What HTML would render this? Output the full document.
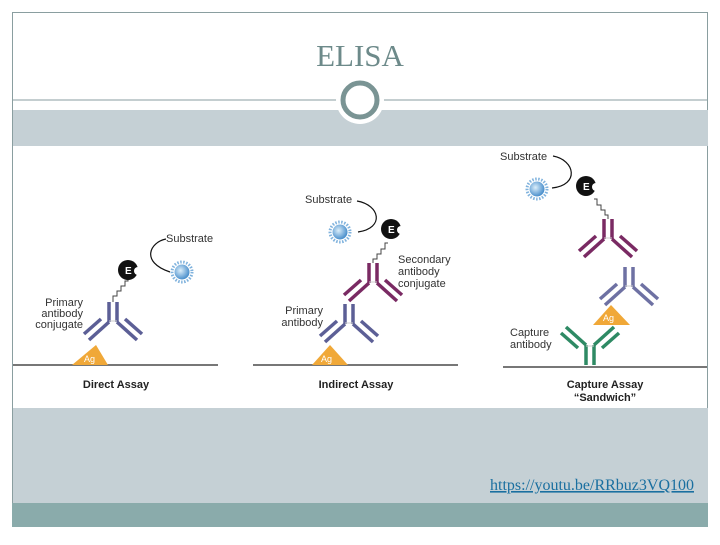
<!DOCTYPE html>
<html><head><meta charset="utf-8"><style>
html,body{margin:0;padding:0;background:#fff;}
body{width:720px;height:540px;position:relative;overflow:hidden;font-family:"Liberation Sans",sans-serif;}
</style></head><body>
<svg width="720" height="540" viewBox="0 0 720 540" xmlns="http://www.w3.org/2000/svg">
<defs>
<g id="ab">
 <line x1="-4" y1="0" x2="-4" y2="-20" stroke="currentColor" stroke-width="3.5"/>
 <line x1="4" y1="0" x2="4" y2="-20" stroke="currentColor" stroke-width="3.5"/>
 <line x1="-4" y1="0" x2="-24" y2="18" stroke="currentColor" stroke-width="3.5"/>
 <line x1="-12" y1="-3" x2="-29" y2="12" stroke="currentColor" stroke-width="3.5"/>
 <line x1="4" y1="0" x2="24" y2="18" stroke="currentColor" stroke-width="3.5"/>
 <line x1="12" y1="-3" x2="29" y2="12" stroke="currentColor" stroke-width="3.5"/>
 <line x1="-4" y1="-1" x2="4" y2="-1" stroke="#ccc" stroke-width="1"/>
</g>
<g id="enz">
 <circle cx="0" cy="0" r="10" fill="#111"/>
 <circle cx="10" cy="1" r="4" fill="#fff"/>
 <text x="-3" y="4" font-size="10" font-weight="bold" fill="#fff" font-family="Liberation Sans">E</text>
</g>
<radialGradient id="bg" cx="0.4" cy="0.4" r="0.6"><stop offset="0" stop-color="#dbeefa"/><stop offset="1" stop-color="#4a8fcc"/></radialGradient>
<g id="ball">
 <circle r="10" fill="none" stroke="#7fb2dd" stroke-width="3" stroke-dasharray="1.5 1.5"/>
 <circle r="7.5" fill="url(#bg)"/>
</g>
</defs>
<!-- frame -->
<rect x="12.5" y="12.5" width="695" height="514" fill="none" stroke="#8a9ea0" stroke-width="1"/>
<line x1="13" y1="100" x2="707" y2="100" stroke="#8a9ea0" stroke-width="1"/>
<rect x="13" y="110" width="695" height="36" fill="#c5d0d5"/>
<rect x="13" y="408" width="695" height="95" fill="#c5d0d5"/>
<rect x="12" y="503" width="696" height="24" fill="#8aabab"/>
<text x="360" y="66" text-anchor="middle" font-family="Liberation Serif,serif" font-size="31" fill="#6d8a8a">ELISA</text>
<circle cx="360" cy="100" r="24" fill="#fff"/>
<circle cx="360" cy="100" r="17" fill="#fff" stroke="#7a9494" stroke-width="5"/>

<g font-family="Liberation Sans,sans-serif" font-size="11" fill="#333">
<!-- Direct -->
<line x1="13" y1="365" x2="218" y2="365" stroke="#777" stroke-width="2"/>
<polygon points="96,345 72,365 108,365" fill="#f0a838"/>
<text x="84" y="362" font-size="9" fill="#fff">Ag</text>
<use href="#ab" x="113" y="322" color="#5c5f96"/>
<path d="M113 302 v-6 h4 v-5 h4 v-5 h4 v-5 h3 v-3" fill="none" stroke="#444" stroke-width="1"/>
<use href="#enz" x="128" y="270"/>
<use href="#ball" x="182" y="272"/>
<path d="M166 239 C150 242 140 262 170 272" fill="none" stroke="#111" stroke-width="1.2"/>
<text x="166" y="242">Substrate</text>
<g text-anchor="end"><text x="83" y="306">Primary</text><text x="83" y="317">antibody</text><text x="83" y="328">conjugate</text></g>
<text x="116" y="388" text-anchor="middle" font-weight="bold" font-size="11" fill="#222">Direct Assay</text>

<!-- Indirect -->
<line x1="253" y1="365" x2="458" y2="365" stroke="#777" stroke-width="2"/>
<polygon points="330,345 312,365 348,365" fill="#f0a838"/>
<text x="321" y="362" font-size="9" fill="#fff">Ag</text>
<use href="#ab" x="349" y="324" color="#5c5f96"/>
<use href="#ab" x="373" y="283" color="#7a2a63"/>
<path d="M373 263 v-4 h4 v-5 h4 v-5 h4 v-6 h3" fill="none" stroke="#444" stroke-width="1"/>
<use href="#enz" x="391" y="229"/>
<use href="#ball" x="340" y="232"/>
<path d="M357 201 C380 205 385 228 358 232" fill="none" stroke="#111" stroke-width="1.2"/>
<text x="305" y="203">Substrate</text>
<text x="398" y="263">Secondary</text><text x="398" y="275">antibody</text><text x="398" y="287">conjugate</text>
<g text-anchor="end"><text x="323" y="314">Primary</text><text x="323" y="326">antibody</text></g>
<text x="356" y="388" text-anchor="middle" font-weight="bold" font-size="11" fill="#222">Indirect Assay</text>

<!-- Capture -->
<line x1="503" y1="367" x2="707" y2="367" stroke="#777" stroke-width="2"/>
<use href="#ab" transform="translate(590,345) scale(1,-1)" color="#2e8a64"/>
<polygon points="611,305 593,325 630,325" fill="#f0a838"/>
<text x="603" y="321" font-size="9" fill="#fff">Ag</text>
<use href="#ab" x="629" y="287" color="#6e71a3"/>
<use href="#ab" x="608" y="239" color="#7a2a63"/>
<path d="M608 219 v-4 h-3 v-5 h-4 v-5 h-4 v-6 h-3" fill="none" stroke="#444" stroke-width="1"/>
<use href="#enz" x="586" y="186"/>
<use href="#ball" x="537" y="189"/>
<path d="M553 156 C575 160 580 185 552 188" fill="none" stroke="#111" stroke-width="1.2"/>
<text x="500" y="160">Substrate</text>
<text x="510" y="336">Capture</text><text x="510" y="348">antibody</text>
<text x="605" y="388" text-anchor="middle" font-weight="bold" font-size="11" fill="#222">Capture Assay</text>
<text x="605" y="401" text-anchor="middle" font-weight="bold" font-size="11" fill="#222">“Sandwich”</text>
</g>
<text x="694" y="490" text-anchor="end" font-family="Liberation Serif,serif" font-size="16" fill="#1a6fa0" text-decoration="underline">https://youtu.be/RRbuz3VQ100</text>
</svg>
</body></html>
